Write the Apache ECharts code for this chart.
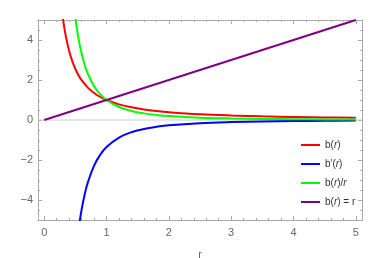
<!DOCTYPE html>
<html>
<head>
<meta charset="utf-8">
<script src="https://cdn.jsdelivr.net/npm/echarts@6/dist/echarts.min.js"></script>
<style>html,body{margin:0;padding:0;background:#fff}#c{width:382px;height:258px}</style>
</head>
<body>
<div id="c"></div>
<script>
// ---- data ----
const rRed   = [0.28, 0.30, 0.32, 0.35, 0.40, 0.45, 0.50, 0.55, 0.60, 0.70, 0.80, 0.90, 1.0, 1.2, 1.4, 1.6, 1.8, 2.0, 2.5, 3.0, 3.5, 4.0, 4.5, 5.0];
const bVals  = [5.58, 5.08, 4.66, 4.13, 3.45, 2.94, 2.55, 2.24, 1.99, 1.62, 1.35, 1.15, 1.0, 0.78, 0.635, 0.53, 0.452, 0.392, 0.29, 0.227, 0.184, 0.154, 0.131, 0.114];
const rGreen = [0.45, 0.48, 0.50, 0.52, 0.55, 0.60, 0.65, 0.70, 0.80, 0.90, 1.0, 1.2, 1.4, 1.6, 1.8, 2.0, 2.5, 3.0, 3.5, 4.0, 4.5, 5.0];
const bOverR = [6.53, 5.61, 5.10, 4.65, 4.07, 3.32, 2.75, 2.31, 1.69, 1.28, 1.0, 0.65, 0.454, 0.331, 0.251, 0.196, 0.116, 0.076, 0.053, 0.0385, 0.029, 0.023];
const rBlue  = [0.55, 0.57, 0.60, 0.65, 0.70, 0.80, 0.90, 1.0, 1.2, 1.4, 1.6, 1.8, 2.0, 2.5, 3.0, 3.5, 4.0, 4.5, 5.0];
const bPrime = [-5.49, -5.06, -4.48, -3.71, -3.12, -2.28, -1.73, -1.35, -0.88, -0.61, -0.45, -0.34, -0.26, -0.157, -0.103, -0.072, -0.052, -0.039, -0.031];
const rLine  = [0, 5];
const bLine  = [0, 5];
const zeroX  = [-0.1, 5.1];
const zeroY  = [0, 0];

const seriesNames = ['b(r)', 'b\u2032(r)', 'b(r)/r', 'b(r) = r'];
const legendRich  = {
  'b(r)': '{n|b(}{i|r}{n|)}',
  'b\u2032(r)': '{n|b\u2032(}{i|r}{n|)}',
  'b(r)/r': '{n|b(}{i|r}{n|)/}{i|r}',
  'b(r) = r': '{n|b(}{i|r}{n|) = r}'
};

const xMajor = [0, 1, 2, 3, 4, 5];
const xMinor = [0.2,0.4,0.6,0.8,1.2,1.4,1.6,1.8,2.2,2.4,2.6,2.8,3.2,3.4,3.6,3.8,4.2,4.4,4.6,4.8];
const yMajor = [-4, -2, 0, 2, 4];
const yMinor = [-4.5,-3.5,-3,-2.5,-1.5,-1,-0.5,0.5,1,1.5,2.5,3,3.5,4.5];

const zip = (a, b) => a.map((v, i) => [v, b[i]]);
const frame = '#aaaaaa';
const fontFam = 'Liberation Sans, Arial, sans-serif';

function xAx(grid, pos, ticks, len, labels) {
  return {
    type: 'value', gridIndex: grid, position: pos, min: -0.1, max: 5.1,
    axisLine: { show: true, onZero: false, lineStyle: { color: frame, width: 1 } },
    axisTick: { show: true, inside: true, length: len, customValues: ticks, lineStyle: { color: frame } },
    axisLabel: labels ? { show: true, customValues: labels, color: '#666', fontSize: 11, fontFamily: fontFam, margin: 7,
      formatter: v => String(v).replace('-', '\u2212') } : { show: false },
    splitLine: { show: false },
    name: (labels && grid === 0) ? 'r' : '',
    nameLocation: 'middle', nameGap: 29,
    nameTextStyle: { color: '#666', fontSize: 11, fontFamily: fontFam }
  };
}
function yAx(grid, pos, ticks, len, labels) {
  return {
    type: 'value', gridIndex: grid, position: pos, min: -5, max: 5,
    axisLine: { show: true, onZero: false, lineStyle: { color: frame, width: 1 } },
    axisTick: { show: true, inside: true, length: len, customValues: ticks, lineStyle: { color: frame } },
    axisLabel: labels ? { show: true, customValues: labels, color: '#666', fontSize: 11, fontFamily: fontFam, margin: 5,
      formatter: v => String(v).replace('-', '\u2212') } : { show: false },
    splitLine: { show: false }
  };
}

const gridBox = { left: 38, right: 20, top: 20, bottom: 38, containLabel: false, outerBoundsMode: 'none' };

const chart = echarts.init(document.getElementById('c'), null, { renderer: 'canvas' });
chart.setOption({
  animation: false,
  backgroundColor: '#fff',
  grid: [Object.assign({}, gridBox), Object.assign({}, gridBox)],
  xAxis: [
    xAx(0, 'bottom', xMajor, 4, xMajor),
    xAx(0, 'top', xMajor, 4, null),
    xAx(1, 'bottom', xMinor, 2, null),
    xAx(1, 'top', xMinor, 2, null)
  ],
  yAxis: [
    yAx(0, 'left', yMajor, 4, yMajor),
    yAx(0, 'right', yMajor, 4, null),
    yAx(1, 'left', yMinor, 2, null),
    yAx(1, 'right', yMinor, 2, null)
  ],
  legend: {
    orient: 'vertical', left: 296, top: 135,
    data: seriesNames,
    icon: 'rect', itemWidth: 19, itemHeight: 2, itemGap: 9,
    formatter: name => legendRich[name],
    textStyle: {
      color: '#333', fontSize: 10, fontFamily: fontFam,
      rich: {
        n: { fontSize: 10, color: '#333', fontFamily: fontFam },
        i: { fontSize: 10, color: '#333', fontFamily: fontFam, fontStyle: 'italic' }
      }
    },
    selectedMode: false
  },
  series: [
    { name: 'zero', type: 'line', xAxisIndex: 0, yAxisIndex: 0, data: zip(zeroX, zeroY), showSymbol: false, symbol: 'none',
      lineStyle: { color: '#cccccc', width: 1 }, z: 1, silent: true },
    { name: seriesNames[0], type: 'line', xAxisIndex: 0, yAxisIndex: 0, data: zip(rRed, bVals), smooth: 0.4, symbol: 'none',
      color: '#ff0000', lineStyle: { color: '#ff0000', width: 2 }, z: 3 },
    { name: seriesNames[1], type: 'line', xAxisIndex: 0, yAxisIndex: 0, data: zip(rBlue, bPrime), smooth: 0.4, symbol: 'none',
      color: '#0000ff', lineStyle: { color: '#0000ff', width: 2 }, z: 3 },
    { name: seriesNames[2], type: 'line', xAxisIndex: 0, yAxisIndex: 0, data: zip(rGreen, bOverR), smooth: 0.4, symbol: 'none',
      color: '#00ff00', lineStyle: { color: '#00ff00', width: 2 }, z: 3 },
    { name: seriesNames[3], type: 'line', xAxisIndex: 0, yAxisIndex: 0, data: zip(rLine, bLine), symbol: 'none',
      color: '#800080', lineStyle: { color: '#800080', width: 2 }, z: 4 }
  ]
});
</script>
</body>
</html>
